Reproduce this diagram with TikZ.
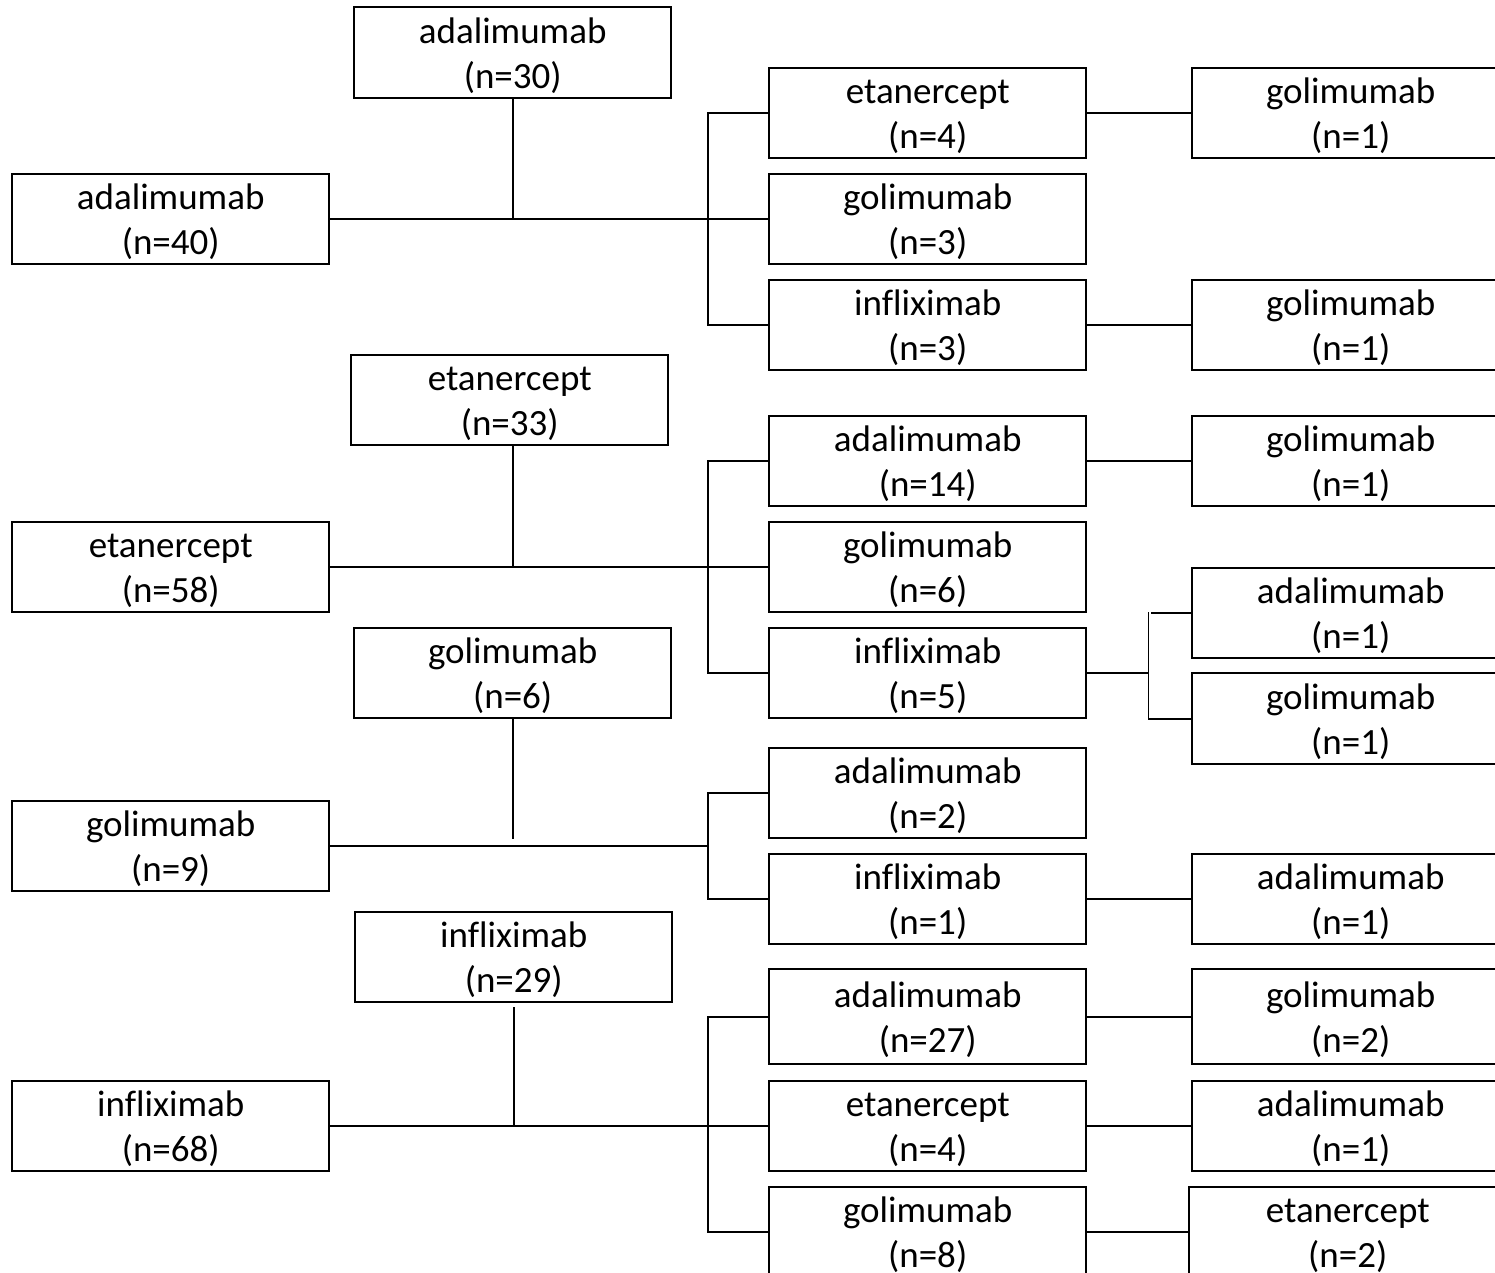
\documentclass[tikz,border=0pt]{standalone}
\usepackage{fontspec}
\setmainfont{Carlito}[Ligatures=NoCommon]
\newcommand{\twol}[2]{\raisebox{-4pt}[\height][\depth]{\begin{tabular}{@{}c@{}}#1\\#2\end{tabular}}}
\begin{document}
\begin{tikzpicture}[x=1pt,y=-1pt,
  box/.style={draw, line width=2.4pt, minimum width=317pt, minimum height=90pt, inner sep=0pt, anchor=north west, font=\fontsize{37}{45}\selectfont},
  conn/.style={line width=1.8pt}]
\useasboundingbox (0,0) rectangle (1495,1273);
\clip (0,0) rectangle (1495,1273);
% column A
\node[box] (a40) at (11,173) {\twol{adalimumab}{(n=40)}};
\node[box] (a58) at (11,521) {\twol{etanercept}{(n=58)}};
\node[box] (a9) at (11,800) {\twol{golimumab}{(n=9)}};
\node[box] (a68) at (11,1080) {\twol{infliximab}{(n=68)}};
% column B
\node[box, minimum height=91pt] (b30) at (353,6) {\twol{adalimumab}{(n=30)}};
\node[box] (b33) at (350,354) {\twol{etanercept}{(n=33)}};
\node[box] (b6) at (353,627) {\twol{golimumab}{(n=6)}};
\node[box] (b29) at (354,911) {\twol{infliximab}{(n=29)}};
% column C
\node[box] (c1e) at (768,67) {\twol{etanercept}{(n=4)}};
\node[box] (c1g) at (768,173) {\twol{golimumab}{(n=3)}};
\node[box] (c1i) at (768,279) {\twol{infliximab}{(n=3)}};
\node[box] (c2a) at (768,415) {\twol{adalimumab}{(n=14)}};
\node[box] (c2g) at (768,521) {\twol{golimumab}{(n=6)}};
\node[box] (c2i) at (768,627) {\twol{infliximab}{(n=5)}};
\node[box] (c3a) at (768,747) {\twol{adalimumab}{(n=2)}};
\node[box] (c3i) at (768,853) {\twol{infliximab}{(n=1)}};
\node[box, minimum height=95pt] (c4a) at (768,968) {\twol{adalimumab}{(n=27)}};
\node[box] (c4e) at (768,1080) {\twol{etanercept}{(n=4)}};
\node[box] (c4g) at (768,1186) {\twol{golimumab}{(n=8)}};
% column D
\node[box] (d1e) at (1191,67) {\twol{golimumab}{(n=1)}};
\node[box] (d1i) at (1191,279) {\twol{golimumab}{(n=1)}};
\node[box] (d2a) at (1191,415) {\twol{golimumab}{(n=1)}};
\node[box] (d2ia) at (1191,567) {\twol{adalimumab}{(n=1)}};
\node[box, minimum height=91pt] (d2ig) at (1191,672) {\twol{golimumab}{(n=1)}};
\node[box] (d3i) at (1191,853) {\twol{adalimumab}{(n=1)}};
\node[box, minimum height=95pt] (d4a) at (1191,968) {\twol{golimumab}{(n=2)}};
\node[box] (d4e) at (1191,1080) {\twol{adalimumab}{(n=1)}};
\node[box] (d4g) at (1188,1186) {\twol{etanercept}{(n=2)}};
% group 1
\draw[conn] (a40.east) -- (c1g.west);
\draw[conn] (b30.south) -- (b30.south |- a40.east);
\draw[conn] (c1e.west) -- ++(-60,0) |- (c1i.west);
\draw[conn] (c1e.east) -- (d1e.west);
\draw[conn] (c1i.east) -- (d1i.west);
% group 2
\draw[conn] (a58.east) -- (c2g.west);
\draw[conn] ([xshift=3pt]b33.south) -- ([xshift=3pt]b33.south |- a58.east);
\draw[conn] (c2a.west) -- ++(-60,0) |- (c2i.west);
\draw[conn] (c2a.east) -- (d2a.west);
\draw[conn] (c2i.east) -- ++(61,0) coordinate (k2);
\draw[conn] (k2 |- d2ia.west) ++(0,-1) -- (k2 |- d2ig.west);
\draw[conn] ([xshift=3pt]k2 |- d2ia.west) -- (d2ia.west);
\draw[conn] (k2 |- d2ig.west) -- (d2ig.west);
% group 3
\draw[conn] (c3a.west) -- ++(-60,0) coordinate (k3) |- (c3i.west);
\draw[conn] (a9.east) -- (a9.east -| k3);
\draw[conn] (b6.south) -- ([yshift=7pt]b6.south |- a9.east);
\draw[conn] (c3i.east) -- (d3i.west);
% group 4
\draw[conn] (a68.east) -- (c4e.west);
\draw[conn] ([yshift=-4pt]b29.south) -- (b29.south |- a68.east);
\draw[conn] (c4a.west) -- ++(-60,0) |- (c4g.west);
\draw[conn] (c4a.east) -- (d4a.west);
\draw[conn] (c4e.east) -- (d4e.west);
\draw[conn] (c4g.east |- d4g.west) -- (d4g.west);
\end{tikzpicture}
\end{document}
